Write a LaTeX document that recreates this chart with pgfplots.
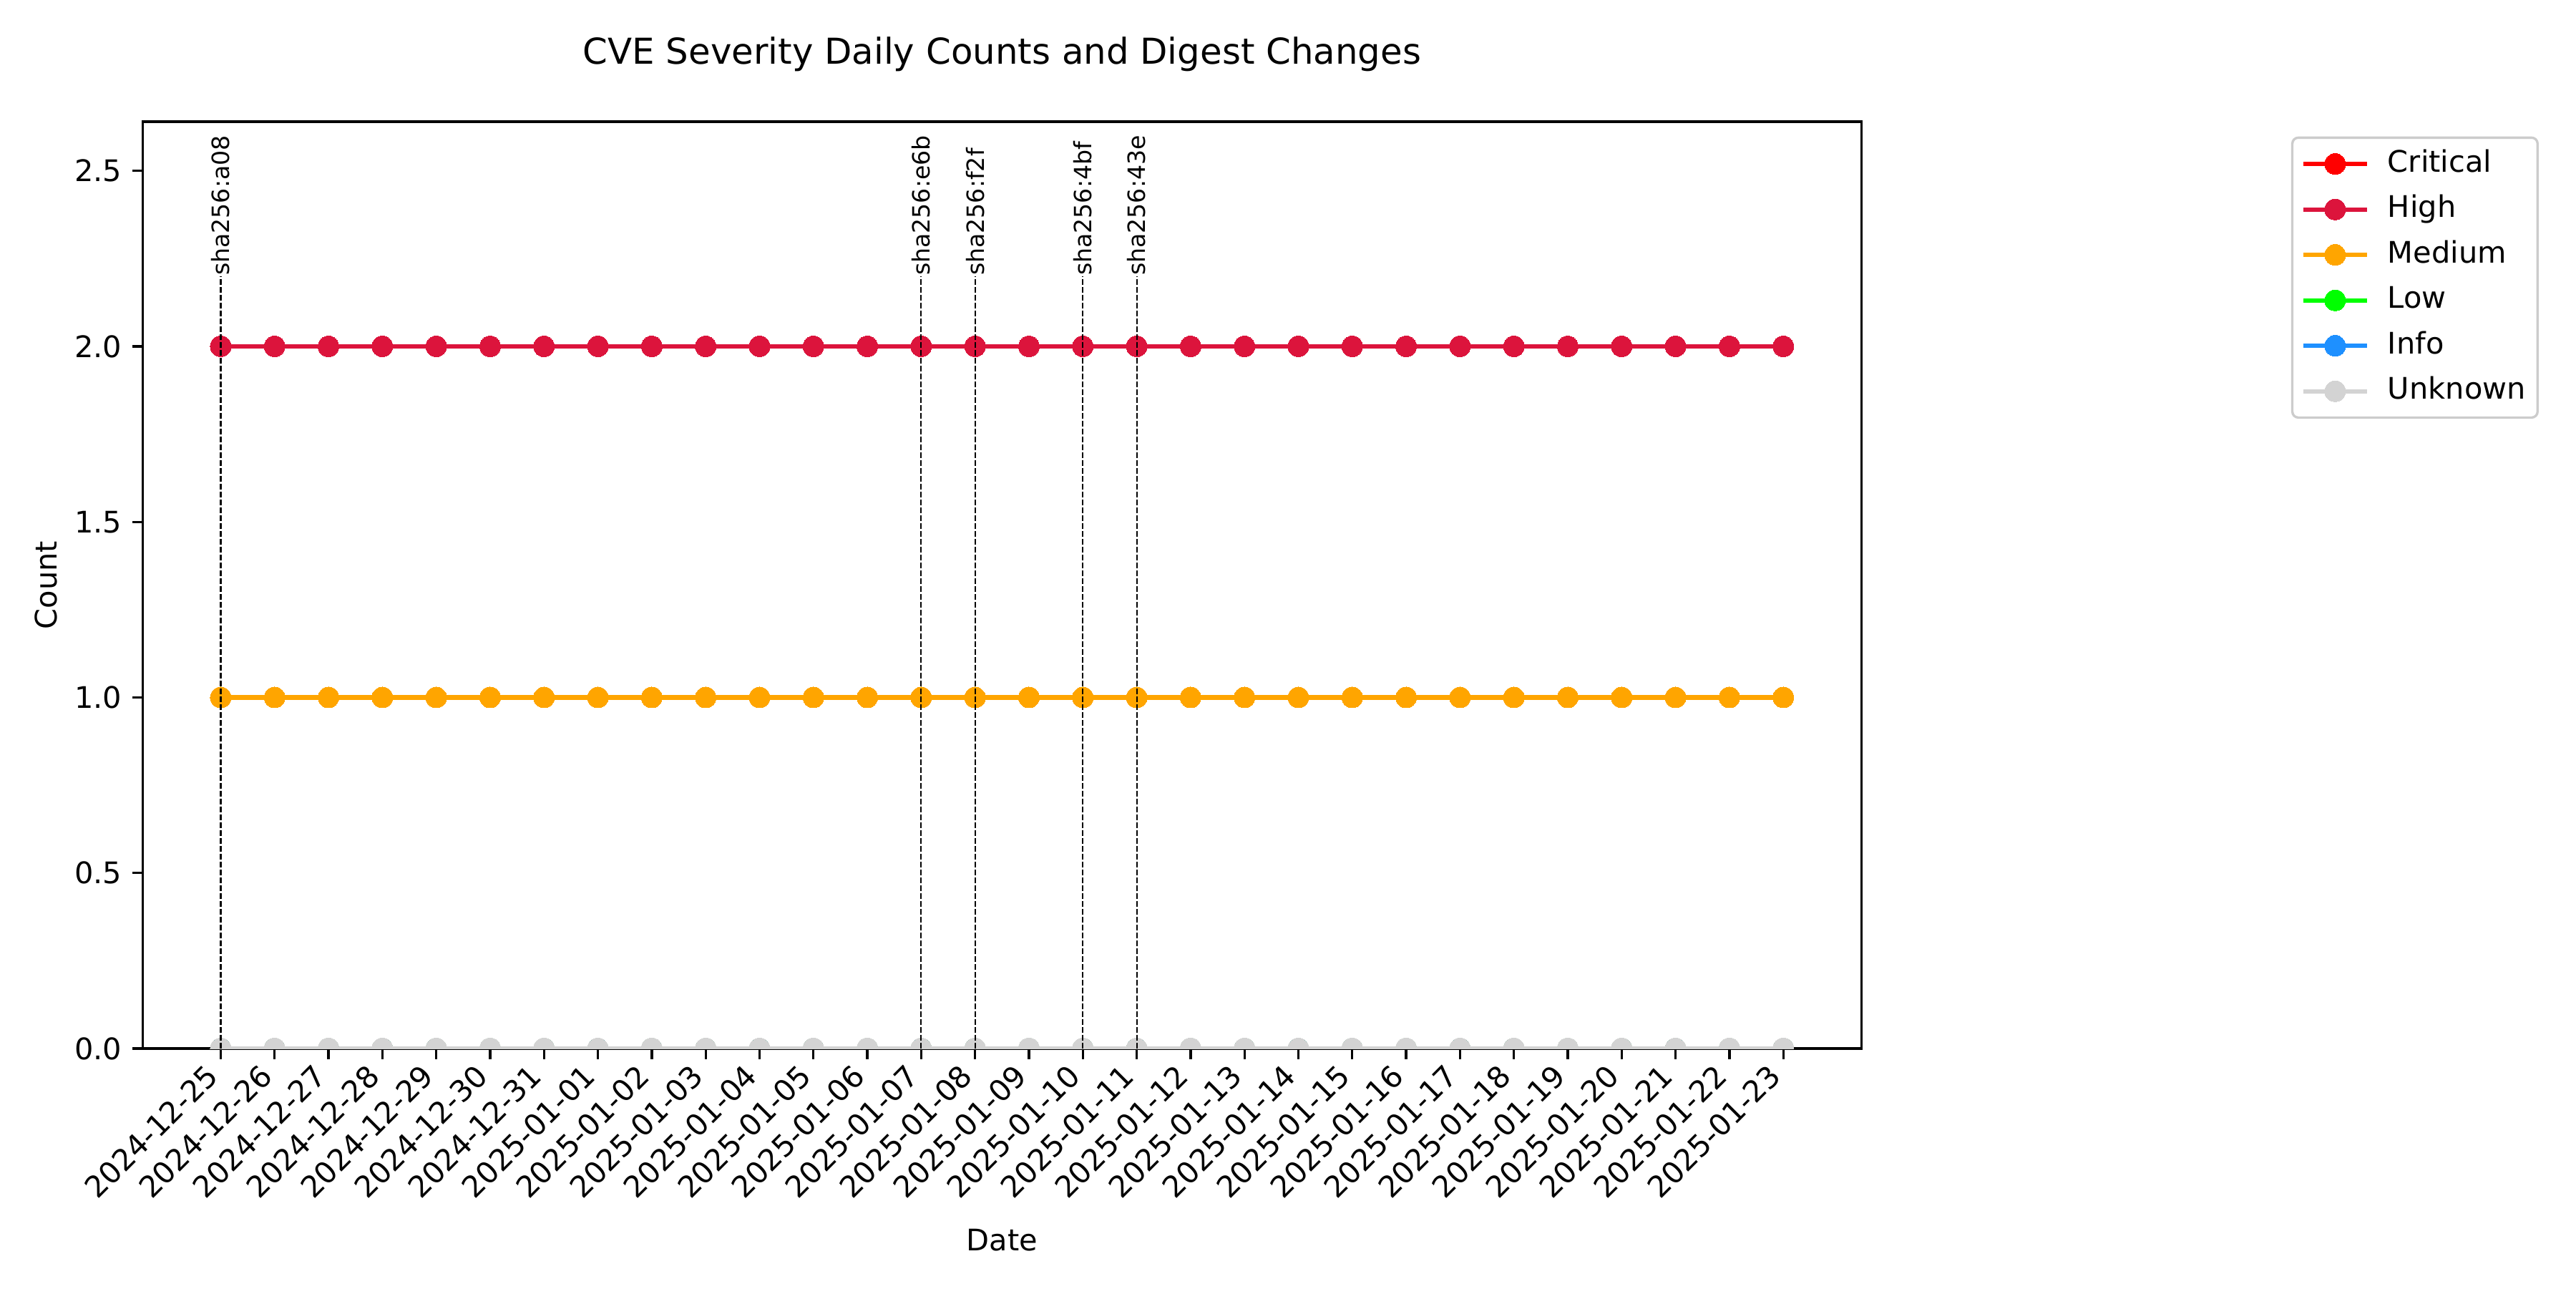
\documentclass[border=0pt]{standalone}
\usepackage{pgfplots}
\usepackage{pgfplotstable}
\pgfplotsset{compat=1.18}
\usepackage{fontspec}
\setmainfont{DejaVu Sans}
\definecolor{cCritical}{HTML}{FF0000}
\definecolor{cHigh}{HTML}{DC143C}
\definecolor{cMedium}{HTML}{FFA500}
\definecolor{cLow}{HTML}{00FF00}
\definecolor{cInfo}{HTML}{1E90FF}
\definecolor{cUnknown}{HTML}{D3D3D3}
\definecolor{frameGray}{gray}{0.8}

\pgfplotstableread{
x Critical High Medium Low Info Unknown
0 0 2 1 0 0 0
1 0 2 1 0 0 0
2 0 2 1 0 0 0
3 0 2 1 0 0 0
4 0 2 1 0 0 0
5 0 2 1 0 0 0
6 0 2 1 0 0 0
7 0 2 1 0 0 0
8 0 2 1 0 0 0
9 0 2 1 0 0 0
10 0 2 1 0 0 0
11 0 2 1 0 0 0
12 0 2 1 0 0 0
13 0 2 1 0 0 0
14 0 2 1 0 0 0
15 0 2 1 0 0 0
16 0 2 1 0 0 0
17 0 2 1 0 0 0
18 0 2 1 0 0 0
19 0 2 1 0 0 0
20 0 2 1 0 0 0
21 0 2 1 0 0 0
22 0 2 1 0 0 0
23 0 2 1 0 0 0
24 0 2 1 0 0 0
25 0 2 1 0 0 0
26 0 2 1 0 0 0
27 0 2 1 0 0 0
28 0 2 1 0 0 0
29 0 2 1 0 0 0
}\datatable

\pgfplotsset{
  sev/.style={color=#1, line width=1.5pt, mark=*, mark size=3.5pt,
    mark options={solid, fill=#1, draw=#1, line width=0pt}},
}

\begin{document}
\begin{tikzpicture}
\useasboundingbox (-47.83bp,-80.4bp) rectangle (816.17bp,351.6bp);
\begin{axis}[
  at={(0,0)}, anchor=south west,
  scale only axis,
  width=576.5bp, height=310.8bp,
  xmin=-1.45, xmax=30.45,
  ymin=0, ymax=2.64,
  xtick={0,...,29},
  xticklabels={2024-12-25,2024-12-26,2024-12-27,2024-12-28,2024-12-29,2024-12-30,2024-12-31,2025-01-01,2025-01-02,2025-01-03,2025-01-04,2025-01-05,2025-01-06,2025-01-07,2025-01-08,2025-01-09,2025-01-10,2025-01-11,2025-01-12,2025-01-13,2025-01-14,2025-01-15,2025-01-16,2025-01-17,2025-01-18,2025-01-19,2025-01-20,2025-01-21,2025-01-22,2025-01-23},
  ytick={0,0.5,1,1.5,2,2.5},
  tick pos=left,
  tick align=outside,
  major tick length=3.5pt,
  every tick/.style={black, line width=0.8pt},
  axis line style={line width=0.8pt},
  font=\fontsize{10}{12}\selectfont,
  ticklabel style={font=\fontsize{10}{12}\selectfont},
  xticklabel style={xshift=-5.5pt, yshift=-0.94pt, rotate=45, anchor=north east, inner sep=0pt},
  yticklabel style={/pgf/number format/.cd, fixed, fixed zerofill, precision=1, assume math mode=true},
  title={CVE Severity Daily Counts and Digest Changes},
  title style={font=\fontsize{12}{14.4}\selectfont, at={(0.5,1)}, anchor=base, yshift=13.4bp, inner sep=0pt},
  xlabel={Date},
  xlabel style={at={(0.5,0)}, anchor=base, yshift=-67.9bp, inner sep=0pt},
  ylabel={Count},
  ylabel style={at={(-0.0498,0.5)}, anchor=base, inner sep=0pt},
  clip marker paths=true,
  clip mode=individual,
  legend style={at={(1.25,0.984)}, anchor=north west, draw=frameGray, line width=0.8pt,
    rounded corners=2pt, font=\fontsize{10}{12}\selectfont,
    inner xsep=3pt, inner ysep=3pt, row sep=3.6pt,
    nodes={inner sep=1pt, text height=7.5pt, text depth=2.2pt},
    /tikz/every odd column/.append style={column sep=5.3pt}},
  legend cell align=left,
  legend image code/.code={\draw[mark repeat=2,mark phase=2] plot coordinates {(0cm,0cm)(0.375cm,0cm)(0.75cm,0cm)};},
]
\addplot[sev=cCritical] table[x=x, y=Critical] {\datatable};
\addlegendentry{Critical}
\addplot[sev=cHigh] table[x=x, y=High] {\datatable};
\addlegendentry{High}
\addplot[sev=cMedium] table[x=x, y=Medium] {\datatable};
\addlegendentry{Medium}
\addplot[sev=cLow] table[x=x, y=Low] {\datatable};
\addlegendentry{Low}
\addplot[sev=cInfo] table[x=x, y=Info] {\datatable};
\addlegendentry{Info}
\addplot[sev=cUnknown] table[x=x, y=Unknown] {\datatable};
\addlegendentry{Unknown}
\addplot[ycomb, black, line width=0.5pt, dash pattern=on 1.85pt off 0.8pt, mark=none, forget plot]
  coordinates {(0,2.2) (13,2.2) (14,2.2) (16,2.2) (17,2.2)};
\node[rotate=90, anchor=west, inner sep=0pt, font=\fontsize{8}{9.6}\selectfont] at (axis cs:0,2.2) {sha256:a08};
\node[rotate=90, anchor=west, inner sep=0pt, font=\fontsize{8}{9.6}\selectfont] at (axis cs:13,2.2) {sha256:e6b};
\node[rotate=90, anchor=west, inner sep=0pt, font=\fontsize{8}{9.6}\selectfont] at (axis cs:14,2.2) {sha256:f2f};
\node[rotate=90, anchor=west, inner sep=0pt, font=\fontsize{8}{9.6}\selectfont] at (axis cs:16,2.2) {sha256:4bf};
\node[rotate=90, anchor=west, inner sep=0pt, font=\fontsize{8}{9.6}\selectfont] at (axis cs:17,2.2) {sha256:43e};
\end{axis}
\end{tikzpicture}
\end{document}
